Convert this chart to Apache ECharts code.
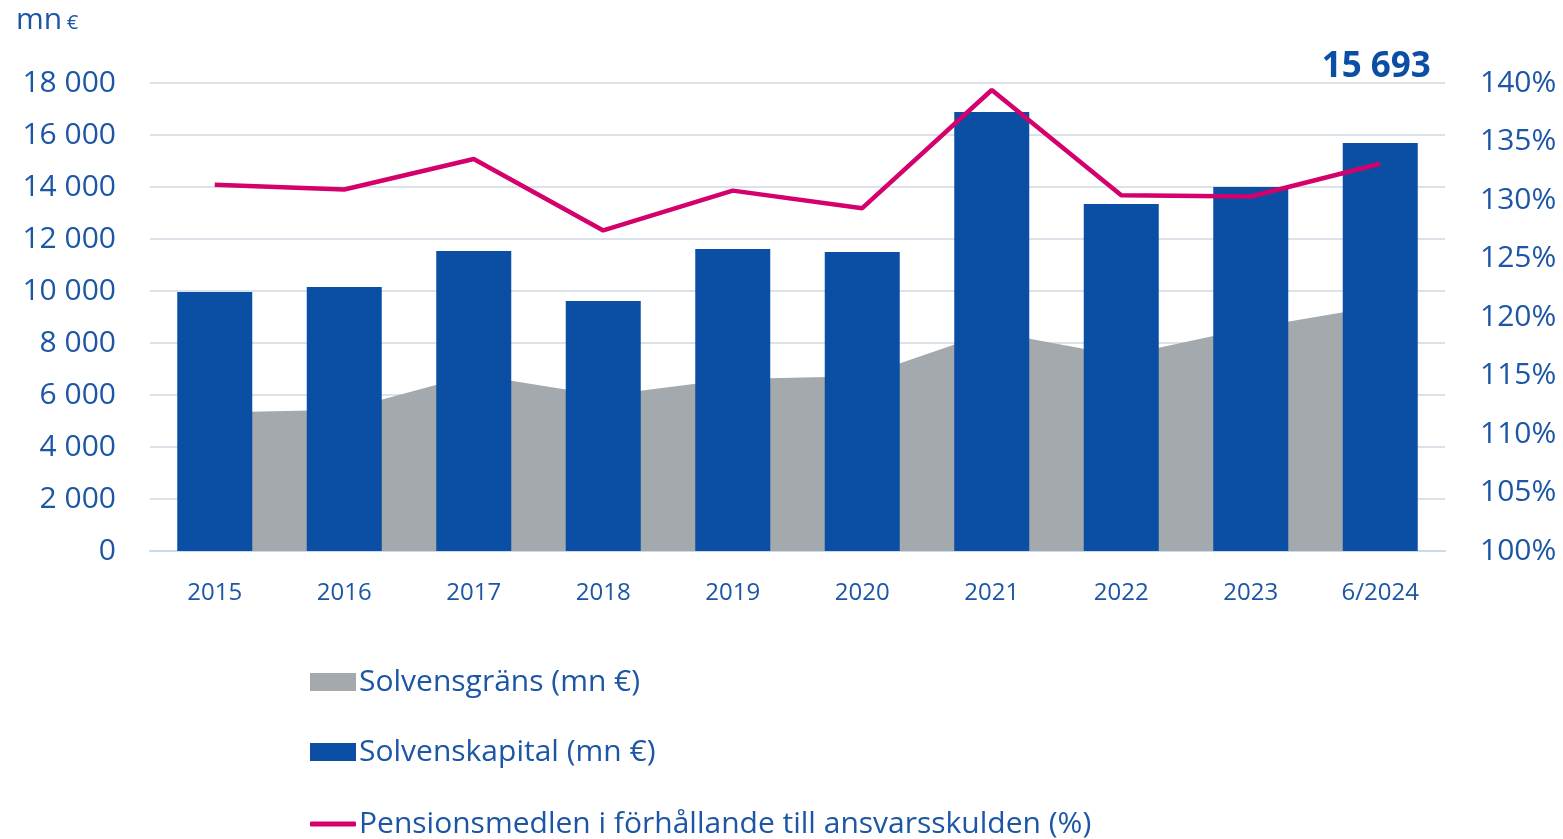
<!DOCTYPE html>
<html>
<head>
<meta charset="utf-8">
<title>Solvens</title>
<script src="https://cdn.jsdelivr.net/npm/echarts@6/dist/echarts.min.js"></script>
<style>
  html, body { margin: 0; padding: 0; background: #fff; }
  #chart { width: 1563px; height: 839px; }
</style>
</head>
<body>
<div id="chart"></div>
<script>
// data
var years = ["2015", "2016", "2017", "2018", "2019", "2020", "2021", "2022", "2023", "6/2024"];
var solvensgrans = [5330, 5430, 6775, 5985, 6615, 6720, 8430, 7510, 8580, 9420];
var solvenskapital = [9960, 10150, 11540, 9615, 11615, 11500, 16885, 13345, 14000, 15693];
var pensionsmedel = [131.3, 130.9, 133.5, 127.4, 130.8, 129.3, 139.4, 130.4, 130.3, 133.1];
var leftTicks = { min: 0, max: 18000, interval: 2000 };
var rightTicks = { min: 100, max: 140, interval: 5 };

var blue = "#0a4fa3";
var grey = "#a3a9ac";
var pink = "#d4006b";
var textBlue = "#1c56a5";
var font = "Open Sans";

var nameGrans = "Solvensgräns (mn €)";
var nameKapital = "Solvenskapital (mn €)";
var namePension = "Pensionsmedlen i förhållande till ansvarsskulden (%)";

function spaced(v) {
  return String(v).replace(/\B(?=(\d{3})+(?!\d))/g, " ");
}

var myChart = echarts.init(document.getElementById("chart"));

var kapitalData = solvenskapital.map(function (v, i) {
  if (i === solvenskapital.length - 1) {
    return {
      value: v,
      label: {
        show: true,
        position: "top",
        offset: [-4, -53],
        formatter: function (p) { return spaced(p.value); },
        color: blue,
        fontFamily: font,
        fontWeight: "bold",
        fontSize: 35
      }
    };
  }
  return v;
});

// one legend per row so they stack like the original
function legendRow(name, top, icon, h) {
  return {
    orient: "horizontal",
    left: 305,
    top: top,
    itemWidth: 46,
    itemHeight: h,
    icon: icon,
    textStyle: { color: textBlue, fontSize: 30, fontFamily: font, lineHeight: 36, padding: [0, 0, 0, -2] },
    data: [name]
  };
}

var option = {
  animation: false,
  textStyle: { fontFamily: font },
  title: {
    text: "{a|mn} {b|€}",
    left: 11,
    top: 0,
    textStyle: {
      rich: {
        a: { fontSize: 30, color: textBlue, fontFamily: font, fontWeight: "normal", verticalAlign: "bottom" },
        b: { fontSize: 20, color: textBlue, fontFamily: font, fontWeight: "normal", verticalAlign: "bottom", padding: [0, 0, 2, 0] }
      }
    }
  },
  grid: { left: 150, right: 118, top: 83, bottom: 288 },
  legend: [
    legendRow(nameGrans, 659, "rect", 18),
    legendRow(nameKapital, 729, "rect", 18),
    legendRow(namePension, 801, "roundRect", 5)
  ],
  xAxis: {
    type: "category",
    data: years,
    axisLine: { lineStyle: { color: "#c9daf0", width: 2 } },
    axisTick: { show: false },
    axisLabel: { color: textBlue, fontSize: 24, margin: 30, fontFamily: font }
  },
  yAxis: [
    {
      type: "value",
      min: leftTicks.min,
      max: leftTicks.max,
      interval: leftTicks.interval,
      axisLine: { show: false },
      axisTick: { show: false },
      axisLabel: {
        color: textBlue, fontSize: 30, margin: 34, fontFamily: font,
        formatter: function (v) { return spaced(v); }
      },
      splitLine: { lineStyle: { color: "#dbe2ea", width: 2 } }
    },
    {
      type: "value",
      min: rightTicks.min,
      max: rightTicks.max,
      interval: rightTicks.interval,
      axisLine: { show: false },
      axisTick: { show: false },
      splitLine: { show: false },
      axisLabel: {
        color: textBlue, fontSize: 30, margin: 35, fontFamily: font,
        formatter: "{value}%"
      }
    }
  ],
  series: [
    {
      name: nameGrans,
      type: "line",
      data: solvensgrans,
      symbol: "none",
      lineStyle: { width: 0 },
      itemStyle: { color: grey },
      areaStyle: { color: grey, opacity: 1 },
      z: 1
    },
    {
      name: nameKapital,
      type: "bar",
      data: kapitalData,
      barWidth: 75,
      itemStyle: { color: blue },
      z: 2
    },
    {
      name: namePension,
      type: "line",
      yAxisIndex: 1,
      data: pensionsmedel,
      symbol: "none",
      lineStyle: { color: pink, width: 4.5 },
      itemStyle: { color: pink },
      z: 3
    }
  ]
};

myChart.setOption(option);
</script>
</body>
</html>
